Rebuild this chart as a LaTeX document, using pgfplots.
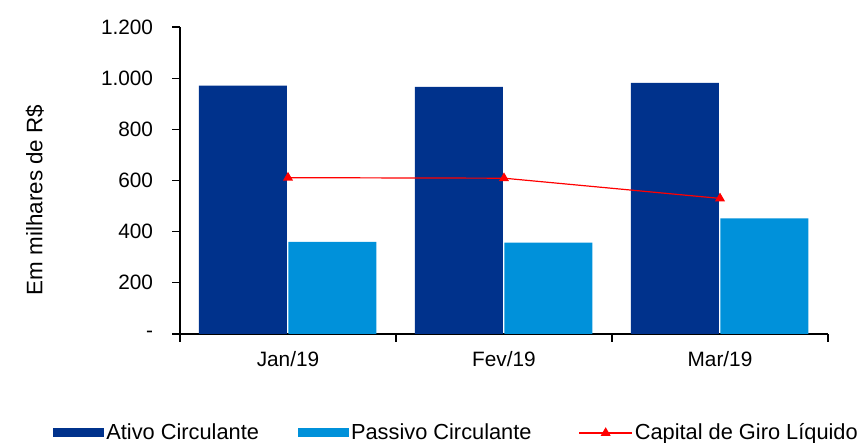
\documentclass[border=0pt]{standalone}
\usepackage{fontspec}
\setmainfont{Liberation Sans}
\usepackage{pgfplots}
\pgfplotsset{compat=1.18}
\definecolor{ativo}{RGB}{0,50,140}
\definecolor{passivo}{RGB}{0,145,218}
\definecolor{giro}{RGB}{255,0,0}
\newcommand{\chartfont}{\fontsize{10.4}{12.5}\selectfont}
\newcommand{\labelfont}{\fontsize{11.2}{13.5}\selectfont}
\newcommand{\legendfont}{\fontsize{10.9}{13}\selectfont}
\pgfplotsset{
  bar legend/.style={legend image code/.code={\fill[##1] (0pt,-2.25pt) rectangle (25.5pt,2.25pt);}},
  line legend wide/.style={legend image code/.code={\draw[mark repeat=2, mark phase=2, ##1] plot coordinates {(0pt,0pt) (13.25pt,0pt) (26.5pt,0pt)};}},
}

\begin{document}
\chartfont
\begin{tikzpicture}
\path[use as bounding box] (0,0) rectangle (432pt,221.5pt);
\begin{axis}[
  at={(90pt,54.5pt)}, anchor=south west,
  scale only axis, width=324pt, height=153.5pt,
  ymin=0, ymax=1200, xmin=-0.5, xmax=2.5,
  axis x line*=bottom, axis y line*=left,
  axis line style={line width=0.6pt, black},
  tick style={line width=0.6pt, black},
  tick align=outside, major tick length=3.8pt,
  ytick={0,200,400,600,800,1000,1200},
  yticklabels={-,200,400,600,800,1.000,1.200},
  yticklabel style={font=\chartfont, xshift=-6pt},
  xtick={-0.5,0.5,1.5,2.5}, xticklabels={},
  extra x ticks={0,1,2},
  extra x tick labels={Jan/19,Fev/19,Mar/19},
  extra x tick style={major tick length=0pt, xticklabel style={font=\chartfont, yshift=-5pt}},
  ylabel={Em milhares de R\$},
  ylabel style={font=\labelfont, at={(axis description cs:-0.2238,0.4365)}, anchor=center},
  legend columns=3,
  legend style={at={(axis description cs:-0.196,-0.3225)}, anchor=west, draw=none,
    inner sep=0pt, font=\legendfont, nodes={inner xsep=1pt, inner ysep=0pt},
    /tikz/column 2/.style={column sep=18.5pt},
    /tikz/column 4/.style={column sep=22.5pt}},
]
\addplot[ybar, bar width=44pt, bar shift=-22.5pt, fill=ativo, draw=none, bar legend]
  coordinates {(0,971) (1,966) (2,982)};
\addlegendentry{Ativo Circulante}
\addplot[ybar, bar width=44pt, bar shift=22.25pt, fill=passivo, draw=none, bar legend]
  coordinates {(0,360) (1,357) (2,452)};
\addlegendentry{Passivo Circulante}
\addplot[giro, line width=0.6pt, mark=triangle*, mark size=2.3pt,
  mark options={solid, fill=giro}, line legend wide]
  coordinates {(0,611) (1,609) (2,530)};
\addlegendentry{Capital de Giro Líquido}
\end{axis}
\end{tikzpicture}
\end{document}
